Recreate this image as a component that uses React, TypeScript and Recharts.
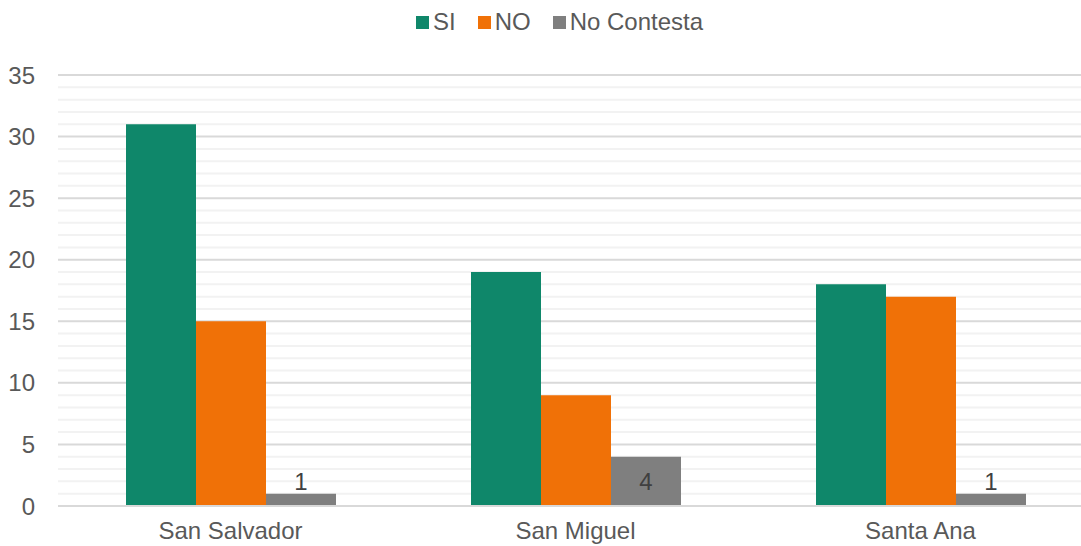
import { BarChart, Bar, XAxis, YAxis, CartesianGrid, LabelList } from "recharts";

const departamentos = ["San Salvador", "San Miguel", "Santa Ana"];
const si = [31, 19, 18];
const no = [15, 9, 17];
const noContesta = [1, 4, 1];
const majorTicks = [0, 5, 10, 15, 20, 25, 30, 35];
const minorTicks = Array.from({ length: 36 }, (_, i) => i).filter((t) => t % 5 !== 0);
const yMax = 35;

const series = [
  { key: "SI", color: "#0f876a" },
  { key: "NO", color: "#f07107" },
  { key: "No Contesta", color: "#7f7f7f" },
];

const data = departamentos.map((name, i) => ({
  name,
  SI: si[i],
  NO: no[i],
  "No Contesta": noContesta[i],
}));

const textColor = "#595959";
const font = "'Liberation Sans', Arial, sans-serif";

const renderLabel = (props: any) => {
  const { x, y, width, height, value } = props;
  const inside = height > 30;
  return (
    <text
      x={x + width / 2}
      y={inside ? y + height / 2 : y - 12}
      textAnchor="middle"
      dominantBaseline="central"
      fill="#404040"
      fontSize={24}
      fontFamily={font}
    >
      {value}
    </text>
  );
};

// minor gridlines at every unit, mapped through the y scale
const minorLines = ({ yAxis, offset }: any) =>
  minorTicks.map((t) =>
    yAxis && typeof yAxis.scale === "function"
      ? yAxis.scale(t)
      : offset.top + offset.height * (1 - t / yMax)
  );

function TopLegend() {
  return (
    <div
      style={{
        position: "absolute",
        top: 8,
        left: 416,
        display: "flex",
        fontSize: 24,
        lineHeight: "28px",
        color: textColor,
        fontFamily: font,
        zIndex: 1,
      }}
    >
      {series.map((s, i) => (
        <div
          key={s.key}
          style={{ display: "flex", alignItems: "center", marginLeft: i === 0 ? 0 : 22 }}
        >
          <span style={{ width: 13, height: 13, background: s.color, marginRight: 4, display: "inline-block" }} />
          <span>{s.key}</span>
        </div>
      ))}
    </div>
  );
}

export default function App() {
  return (
    <div
      style={{
        position: "absolute",
        left: 0,
        top: 0,
        width: 1081,
        height: 546,
        overflow: "hidden",
        background: "#fff",
        fontFamily: font,
      }}
    >
      <TopLegend />
      <BarChart
        width={1093}
        height={546}
        data={data}
        margin={{ top: 75, right: 0, left: 0, bottom: 0 }}
        barCategoryGap={68}
        barGap={0}
      >
        <CartesianGrid
          vertical={false}
          stroke="#f2f2f2"
          strokeWidth={2}
          horizontalCoordinatesGenerator={minorLines}
        />
        <CartesianGrid vertical={false} stroke="#d9d9d9" strokeWidth={2} />
        <XAxis
          dataKey="name"
          height={40}
          tickLine={false}
          axisLine={{ stroke: "#d9d9d9", strokeWidth: 2 }}
          tick={{ fill: textColor, fontSize: 24, fontFamily: font }}
          tickMargin={10}
        />
        <YAxis
          domain={[0, yMax]}
          ticks={majorTicks}
          width={58}
          axisLine={false}
          tickLine={false}
          tick={{ fill: textColor, fontSize: 24, fontFamily: font }}
          tickMargin={17}
        />
        {series.map((s) => (
          <Bar key={s.key} dataKey={s.key} fill={s.color} isAnimationActive={false}>
            {s.key === "No Contesta" && <LabelList dataKey={s.key} content={renderLabel} />}
          </Bar>
        ))}
      </BarChart>
    </div>
  );
}
